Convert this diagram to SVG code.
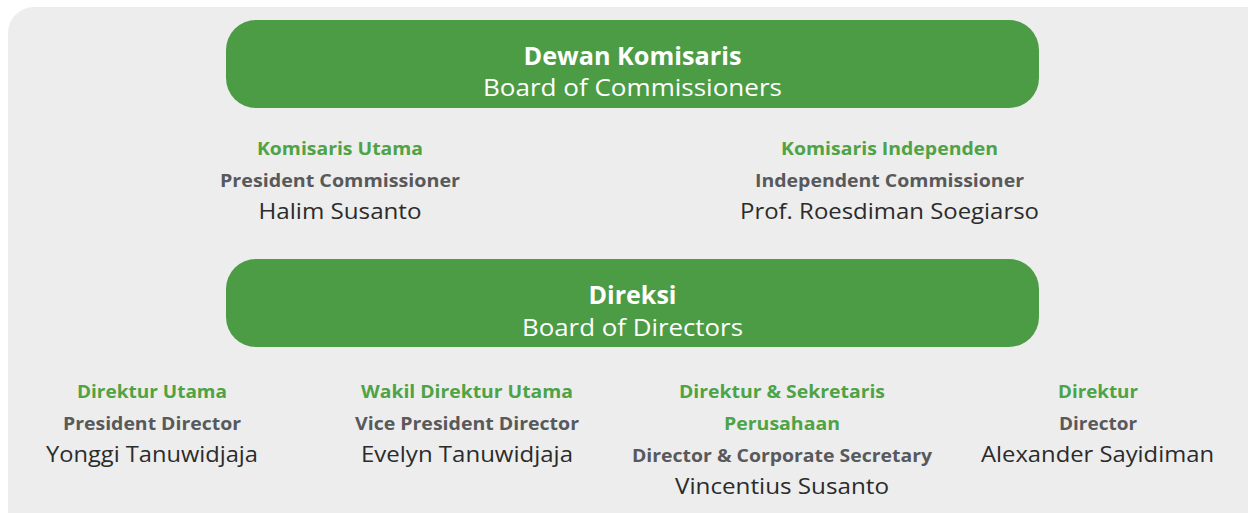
<svg xmlns="http://www.w3.org/2000/svg" width="1248" height="513" viewBox="0 0 1248 513">
<style>
.bg{fill:#ededed}
.box{fill:#4c9c45}
text{font-family:"Open Sans","Liberation Sans",sans-serif;text-anchor:middle}
.t1{font-weight:700;font-size:25px;fill:#fff}
.t2{font-weight:400;font-size:24px;fill:#fff}
.g{font-weight:700;font-size:18.5px;fill:#4ea346}
.r{font-weight:700;font-size:18.5px;fill:#58595b}
.n{font-weight:400;font-size:22.5px;fill:#2b2b2b}
</style>
<rect class="bg" x="8" y="7" width="1265" height="530" rx="26"/>
<g id="dewan-komisaris">
<rect class="box" x="226" y="20" width="813" height="88" rx="30"/>
<text class="t1" x="632.5" y="65" textLength="218" lengthAdjust="spacingAndGlyphs">Dewan Komisaris</text>
<text class="t2" x="632.5" y="96" textLength="299" lengthAdjust="spacingAndGlyphs">Board of Commissioners</text>
</g>
<g id="komisaris-utama">
<text class="g" x="340" y="155" textLength="166" lengthAdjust="spacingAndGlyphs">Komisaris Utama</text>
<text class="r" x="340" y="187" textLength="240" lengthAdjust="spacingAndGlyphs">President Commissioner</text>
<text class="n" x="340" y="218.5" textLength="163" lengthAdjust="spacingAndGlyphs">Halim Susanto</text>
</g>
<g id="komisaris-independen">
<text class="g" x="889.5" y="155" textLength="217" lengthAdjust="spacingAndGlyphs">Komisaris Independen</text>
<text class="r" x="889.5" y="187" textLength="269" lengthAdjust="spacingAndGlyphs">Independent Commissioner</text>
<text class="n" x="889.5" y="218.5" textLength="299" lengthAdjust="spacingAndGlyphs">Prof. Roesdiman Soegiarso</text>
</g>
<g id="direksi">
<rect class="box" x="226" y="259" width="813" height="88" rx="30"/>
<text class="t1" x="632.5" y="303.5" textLength="88" lengthAdjust="spacingAndGlyphs">Direksi</text>
<text class="t2" x="632.5" y="336" textLength="221" lengthAdjust="spacingAndGlyphs">Board of Directors</text>
</g>
<g id="direktur-utama">
<text class="g" x="152" y="397.5" textLength="150" lengthAdjust="spacingAndGlyphs">Direktur Utama</text>
<text class="r" x="152" y="430" textLength="178" lengthAdjust="spacingAndGlyphs">President Director</text>
<text class="n" x="152" y="461.5" textLength="212" lengthAdjust="spacingAndGlyphs">Yonggi Tanuwidjaja</text>
</g>
<g id="wakil-direktur-utama">
<text class="g" x="467" y="397.5" textLength="212" lengthAdjust="spacingAndGlyphs">Wakil Direktur Utama</text>
<text class="r" x="467" y="430" textLength="224" lengthAdjust="spacingAndGlyphs">Vice President Director</text>
<text class="n" x="467" y="461.5" textLength="212" lengthAdjust="spacingAndGlyphs">Evelyn Tanuwidjaja</text>
</g>
<g id="direktur-sekretaris">
<text class="g" x="782" y="397.5" textLength="206" lengthAdjust="spacingAndGlyphs">Direktur &amp; Sekretaris</text>
<text class="g" x="782" y="430" textLength="116" lengthAdjust="spacingAndGlyphs">Perusahaan</text>
<text class="r" x="782" y="462" textLength="300" lengthAdjust="spacingAndGlyphs">Director &amp; Corporate Secretary</text>
<text class="n" x="782" y="494" textLength="214" lengthAdjust="spacingAndGlyphs">Vincentius Susanto</text>
</g>
<g id="direktur">
<text class="g" x="1098" y="397.5" textLength="80" lengthAdjust="spacingAndGlyphs">Direktur</text>
<text class="r" x="1098" y="430" textLength="78" lengthAdjust="spacingAndGlyphs">Director</text>
<text class="n" x="1097.5" y="461.5" textLength="233" lengthAdjust="spacingAndGlyphs">Alexander Sayidiman</text>
</g>
<g id="connectors"></g>
</svg>
